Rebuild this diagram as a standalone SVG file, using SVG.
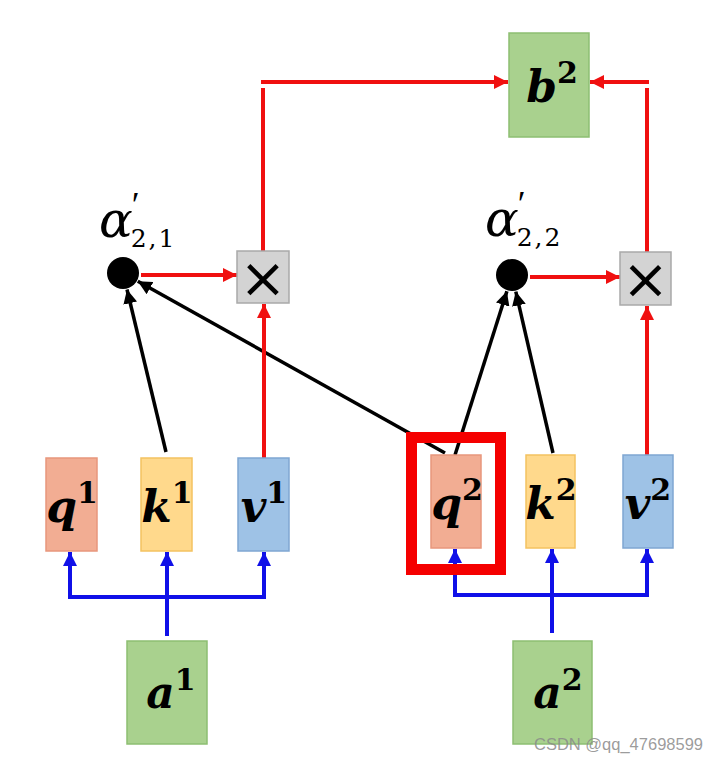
<svg xmlns="http://www.w3.org/2000/svg" width="719" height="762" viewBox="0 0 719 762">
<style>
.q{fill:#F2AD93;stroke:#E8977C;stroke-width:1.5}
.k{fill:#FFD98C;stroke:#F4C260;stroke-width:1.5}
.v{fill:#9EC2E6;stroke:#7FA6D2;stroke-width:1.5}
.g{fill:#A9D18E;stroke:#8DBE72;stroke-width:1.5}
.x{fill:#D3D3D3;stroke:#A9A9A9;stroke-width:1.5}
.lbl{font-family:"DejaVu Serif",serif;font-weight:bold;font-style:italic;font-size:44px;fill:#000;text-anchor:middle}
.sup{font-style:normal;font-size:30px}
.al{font-family:"DejaVu Serif",serif;font-style:italic;font-size:50px;fill:#000}
.pr{font-family:"Liberation Serif",serif;font-style:normal;font-size:36px}
.sub{font-family:"DejaVu Serif",serif;font-style:normal;font-size:25px;letter-spacing:2px}
.mul{font-family:"DejaVu Sans",sans-serif;font-size:56px;fill:#000;text-anchor:middle}
.red{stroke:#F01010;stroke-width:4;fill:none}
.blue{stroke:#1010E8;stroke-width:4;fill:none}
.blk{stroke:#000;stroke-width:3.5;fill:none}
</style>
<defs>
<marker id="ar" markerUnits="userSpaceOnUse" markerWidth="16" markerHeight="14" refX="14" refY="7" orient="auto"><path d="M0,0 L14,7 L0,14 z" fill="#F01010"/></marker>
<marker id="ab" markerUnits="userSpaceOnUse" markerWidth="16" markerHeight="14" refX="14" refY="7" orient="auto"><path d="M0,0 L14,7 L0,14 z" fill="#1010E8"/></marker>
<marker id="ak" markerUnits="userSpaceOnUse" markerWidth="16" markerHeight="14" refX="14" refY="7" orient="auto"><path d="M0,0 L14,7 L0,14 z" fill="#000"/></marker>
</defs>
<rect width="719" height="762" fill="#fff"/>

<g id="connectors">
  <polyline class="blue" points="70,597 264,597"/>
  <line class="blue" x1="70" y1="599" x2="70" y2="552" marker-end="url(#ab)"/>
  <line class="blue" x1="264" y1="599" x2="264" y2="552" marker-end="url(#ab)"/>
  <line class="blue" x1="167" y1="636" x2="167" y2="552" marker-end="url(#ab)"/>
  <polyline class="blue" points="455,595 647,595"/>
  <line class="blue" x1="455" y1="597" x2="455" y2="549" marker-end="url(#ab)"/>
  <line class="blue" x1="647" y1="597" x2="647" y2="549" marker-end="url(#ab)"/>
  <line class="blue" x1="552" y1="633" x2="552" y2="549" marker-end="url(#ab)"/>
  <line class="blk" x1="166" y1="452" x2="127" y2="289.5" marker-end="url(#ak)"/>
  <line class="blk" x1="445" y1="453" x2="137.8" y2="281.3" marker-end="url(#ak)"/>
  <line class="blk" x1="455" y1="455" x2="506.9" y2="291.2" marker-end="url(#ak)"/>
  <line class="blk" x1="553" y1="453" x2="515.8" y2="291.6" marker-end="url(#ak)"/>
  <line class="red" x1="141" y1="275" x2="237" y2="275" marker-end="url(#ar)"/>
  <line class="red" x1="530" y1="277" x2="620" y2="277" marker-end="url(#ar)"/>
  <line class="red" x1="264" y1="458" x2="264" y2="304" marker-end="url(#ar)"/>
  <line class="red" x1="647" y1="455" x2="647" y2="306" marker-end="url(#ar)"/>
  <line class="red" x1="263" y1="251" x2="263" y2="88"/>
  <line class="red" x1="261" y1="82" x2="508" y2="82" marker-end="url(#ar)"/>
  <line class="red" x1="647" y1="252" x2="647" y2="88"/>
  <line class="red" x1="649" y1="82" x2="590" y2="82" marker-end="url(#ar)"/>
</g>

<g id="b2"><rect class="g" x="509" y="33" width="80" height="104"/><text class="lbl" x="552" y="102">b<tspan class="sup" dy="-19">2</tspan></text></g>

<g id="alpha21">
  <circle cx="123" cy="273" r="16" fill="#000"/>
  <text class="al" x="99" y="237">α<tspan class="pr" dx="-1" dy="-20">′</tspan><tspan class="sub" dx="-9" dy="30">2,1</tspan></text>
</g>
<g id="alpha22">
  <circle cx="512" cy="275" r="16" fill="#000"/>
  <text class="al" x="485" y="236">α<tspan class="pr" dx="-1" dy="-20">′</tspan><tspan class="sub" dx="-9" dy="30">2,2</tspan></text>
</g>

<g id="mul1"><rect class="x" x="237" y="251" width="52" height="52"/><text class="mul" x="263" y="297">×</text></g>
<g id="mul2"><rect class="x" x="620" y="252" width="51" height="53"/><text class="mul" x="645.5" y="298">×</text></g>

<g id="q1"><rect class="q" x="46" y="458" width="51" height="93"/><text class="lbl" x="72" y="522">q<tspan class="sup" dy="-19">1</tspan></text></g>
<g id="k1"><rect class="k" x="141" y="458" width="51" height="93"/><text class="lbl" x="167" y="522">k<tspan class="sup" dy="-19">1</tspan></text></g>
<g id="v1"><rect class="v" x="238" y="458" width="51" height="93"/><text class="lbl" x="264" y="522">v<tspan class="sup" dy="-19">1</tspan></text></g>

<g id="q2"><rect class="q" x="431" y="455" width="50" height="93"/><text class="lbl" x="457" y="519">q<tspan class="sup" dy="-19">2</tspan></text></g>
<g id="k2"><rect class="k" x="526" y="455" width="49" height="93"/><text class="lbl" x="551" y="519">k<tspan class="sup" dy="-19">2</tspan></text></g>
<g id="v2"><rect class="v" x="623" y="455" width="50" height="93"/><text class="lbl" x="648" y="519">v<tspan class="sup" dy="-19">2</tspan></text></g>

<g id="highlight"><rect x="411.5" y="437.5" width="89" height="132" fill="none" stroke="#F50000" stroke-width="11"/></g>

<g id="a1"><rect class="g" x="127" y="641" width="80" height="103"/><text class="lbl" x="171" y="708">a<tspan class="sup" dy="-18">1</tspan></text></g>
<g id="a2"><rect class="g" x="513" y="641" width="79" height="103"/><text class="lbl" x="558" y="708">a<tspan class="sup" dy="-18">2</tspan></text></g>

<text x="534" y="750" font-family="Liberation Sans, sans-serif" font-size="16.5" fill="#8a8a8a" fill-opacity="0.85">CSDN @qq_47698599</text>
</svg>
